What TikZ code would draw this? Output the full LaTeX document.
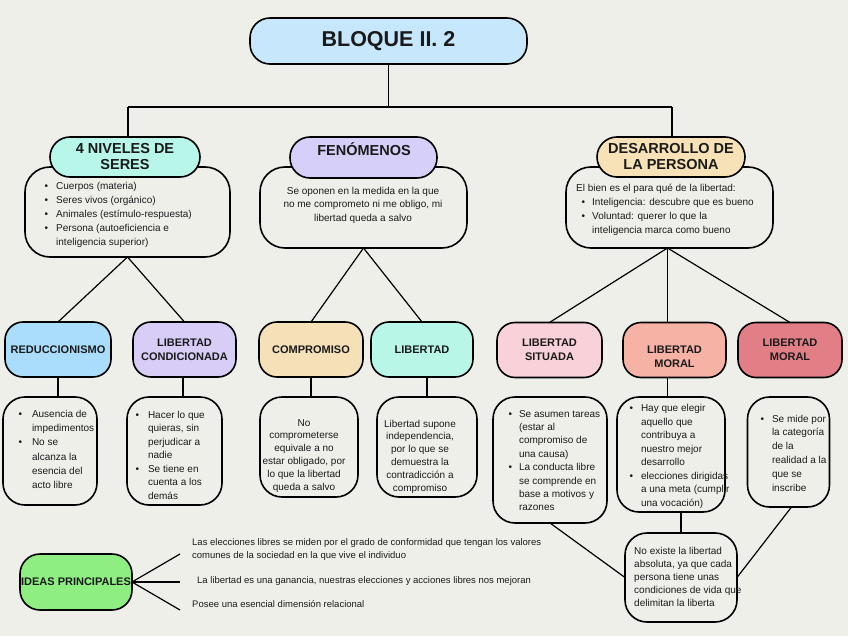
\documentclass[tikz,border=0pt]{standalone}
\usepackage{fontspec}
\setmainfont{Liberation Sans}
\definecolor{bg}{HTML}{EFEFEA}
\definecolor{txt}{HTML}{1A1A1A}
\definecolor{cTitle}{HTML}{C6E7FC}
\definecolor{cNiv}{HTML}{B9F6EA}
\definecolor{cFen}{HTML}{D6CFF9}
\definecolor{cDes}{HTML}{F6E2B6}
\definecolor{cRed}{HTML}{AADDFB}
\definecolor{cCond}{HTML}{D7CDF7}
\definecolor{cComp}{HTML}{F5E0B8}
\definecolor{cLib}{HTML}{B8F6E8}
\definecolor{cSit}{HTML}{F9D1D8}
\definecolor{cMor}{HTML}{F7B2A6}
\definecolor{cMorB}{HTML}{E27F86}
\definecolor{cIdeas}{HTML}{8EEE82}
\tikzset{
  box/.style={draw=black, line width=1.6pt, rounded corners=#1, inner sep=0pt, outer sep=0pt},
  box/.default=18pt,
  conn/.style={draw=black, line width=1.2pt},
  hdr/.style={font=\fontsize{14.5}{16}\selectfont\bfseries, align=center, text=txt},
  lvl/.style={font=\fontsize{11}{14}\selectfont\bfseries, align=center, text=txt},
  body/.style={inner sep=0pt, text=txt},
}
\newcommand{\bsz}[1]{\fontsize{10}{#1}\selectfont}
\begin{document}
\begin{tikzpicture}[x=1pt,y=-1pt]
\fill[bg] (0,0) rectangle (848,636);
\useasboundingbox (0,0) rectangle (848,636);

% title
\node[box=20pt, fill=cTitle, minimum width=277pt, minimum height=46pt,
      font=\fontsize{21.5}{24}\selectfont\bfseries, text=txt] (title) at (388.5,41) {BLOQUE II. 2};
\coordinate (jn) at (388.5,107);
\coordinate (jl) at (128,107);
\coordinate (jr) at (672,107);

% description boxes level 1
\node[box=25pt, fill=bg, minimum width=205pt, minimum height=90pt] (d1) at (127.5,212) {};
\node[box=25pt, fill=bg, minimum width=207pt, minimum height=81pt] (d2) at (363.5,207.5) {};
\node[box=25pt, fill=bg, minimum width=207pt, minimum height=81pt] (d3) at (669.5,207.5) {};

% headers level 1
\node[box=20pt, fill=cNiv, minimum width=150pt, minimum height=40pt, hdr] (h1) at (125,157) {4 NIVELES DE\\SERES};
\node[box=20pt, fill=cFen, minimum width=147pt, minimum height=41pt] (h2) at (363.5,157.5) {};
\node[hdr] (h2t) at (364,149.5) {FENÓMENOS};
\node[box=20pt, fill=cDes, minimum width=148pt, minimum height=40pt, hdr] (h3) at (671,157) {DESARROLLO DE\\LA PERSONA};

\node[body, anchor=base west] (d1t) at (44.5,189.5) {\bsz{14}\begin{tabular}[t]{@{}l@{\hspace{8pt}}l@{}}
\textbullet & Cuerpos (materia)\\
\textbullet & Seres vivos (orgánico)\\
\textbullet & Animales (estímulo-respuesta)\\
\textbullet & Persona (autoeficiencia e\\
 & inteligencia superior)
\end{tabular}};
\node[body, anchor=base] (d2t) at (363,194.5) {\bsz{13.5}\begin{tabular}[t]{@{}c@{}}
Se oponen en la medida en la que\\
no me comprometo ni me obligo, mi\\
libertad queda a salvo
\end{tabular}};
\node[body, anchor=base west] (d3t) at (576,191.5) {\bsz{14}\begin{tabular}[t]{@{\hspace{5.5pt}}l@{\hspace{7pt}}l@{}}
\multicolumn{2}{@{}l@{}}{El bien es el para qué de la libertad:}\\
\textbullet & Inteligencia: descubre que es bueno\\
\textbullet & Voluntad: querer lo que la\\
 & inteligencia marca como bueno
\end{tabular}};

% level 2
\node[box=18pt, fill=cRed, minimum width=106pt, minimum height=55pt, lvl] (r1) at (58,349.5) {REDUCCIONISMO};
\node[box=18pt, fill=cCond, minimum width=103pt, minimum height=55pt, lvl] (r2) at (184.5,349.5) {LIBERTAD\\CONDICIONADA};
\node[box=18pt, fill=cComp, minimum width=104pt, minimum height=55pt, lvl] (r3) at (311,349.5) {COMPROMISO};
\node[box=18pt, fill=cLib, minimum width=102pt, minimum height=55pt, lvl] (r4) at (422,349.5) {LIBERTAD};
\node[box=18pt, fill=cSit, minimum width=105pt, minimum height=55pt, lvl] (r5) at (549.5,350) {LIBERTAD\\SITUADA};
\node[box=18pt, fill=cMor, minimum width=103pt, minimum height=55pt] (r6) at (674.5,350) {};
\node[lvl] (r6t) at (674.5,357) {LIBERTAD\\MORAL};
\node[box=18pt, fill=cMorB, minimum width=104pt, minimum height=55pt, lvl] (r7) at (790,350) {LIBERTAD\\MORAL};

% level 3
\node[box=22pt, fill=bg, minimum width=94pt, minimum height=108pt] (e1) at (50,451) {};
\node[box=22pt, fill=bg, minimum width=95pt, minimum height=108pt] (e2) at (174.5,451) {};
\node[box=22pt, fill=bg, minimum width=98pt, minimum height=100pt] (e3) at (309,447) {};
\node[box=22pt, fill=bg, minimum width=100pt, minimum height=100pt] (e4) at (427,447) {};
\node[box=22pt, fill=bg, minimum width=114pt, minimum height=126pt] (e5) at (550,460) {};
\node[box=22pt, fill=bg, minimum width=108pt, minimum height=115pt] (e6) at (671,454.5) {};
\node[box=22pt, fill=bg, minimum width=82pt, minimum height=110pt] (e7) at (788.5,452) {};
\node[box=22pt, fill=bg, minimum width=112pt, minimum height=89pt] (f) at (681,577.5) {};

\node[body, anchor=base west] (e1t) at (18.3,417.5) {\bsz{14.2}\begin{tabular}[t]{@{}l@{\hspace{10pt}}l@{}}
\textbullet & Ausencia de\\
 & impedimentos\\
\textbullet & No se\\
 & alcanza la\\
 & esencia del\\
 & acto libre
\end{tabular}};
\node[body, anchor=base west] (e2t) at (135.3,418) {\bsz{13.5}\begin{tabular}[t]{@{}l@{\hspace{9pt}}l@{}}
\textbullet & Hacer lo que\\
 & quieras, sin\\
 & perjudicar a\\
 & nadie\\
\textbullet & Se tiene en\\
 & cuenta a los\\
 & demás
\end{tabular}};
\node[body, anchor=base] (e3t) at (304,426) {\bsz{12.8}\begin{tabular}[t]{@{}c@{}}
No\\ comprometerse\\ equivale a no\\ estar obligado, por\\ lo que la libertad\\ queda a salvo
\end{tabular}};
\node[body, anchor=base] (e4t) at (420,427) {\bsz{12.8}\begin{tabular}[t]{@{}c@{}}
Libertad supone\\ independencia,\\ por lo que se\\ demuestra la\\ contradicción a\\ compromiso
\end{tabular}};
\node[body, anchor=base west] (e5t) at (508.3,417) {\bsz{13.4}\begin{tabular}[t]{@{}l@{\hspace{7pt}}l@{}}
\textbullet & Se asumen tareas\\
 & (estar al\\
 & compromiso de\\
 & una causa)\\
\textbullet & La conducta libre\\
 & se comprende en\\
 & base a motivos y\\
 & razones
\end{tabular}};
\node[body, anchor=base west] (e6t) at (629.3,411.5) {\bsz{13.5}\begin{tabular}[t]{@{}l@{\hspace{8pt}}l@{}}
\textbullet & Hay que elegir\\
 & aquello que\\
 & contribuya a\\
 & nuestro mejor\\
 & desarrollo\\
\textbullet & elecciones dirigidas\\
 & a una meta (cumplir\\
 & una vocación)
\end{tabular}};
\node[body, anchor=base west] (e7t) at (760.3,422) {\bsz{13.8}\begin{tabular}[t]{@{}l@{\hspace{8pt}}l@{}}
\textbullet & Se mide por\\
 & la categoría\\
 & de la\\
 & realidad a la\\
 & que se\\
 & inscribe
\end{tabular}};
\node[body, anchor=base west] (ft) at (634,554) {\bsz{13}\begin{tabular}[t]{@{}l@{}}
No existe la libertad\\ absoluta, ya que cada\\ persona tiene unas\\ condiciones de vida que\\ delimitan la liberta
\end{tabular}};

% ideas principales
\node[box=20pt, fill=cIdeas, minimum width=112pt, minimum height=56pt, lvl] (ideas) at (76,582) {IDEAS PRINCIPALES};
\coordinate (i1) at (180,554);
\coordinate (i2) at (180,582);
\coordinate (i3) at (180,610);
\node[body, anchor=base west] (l1) at (192,545.5) {\fontsize{9.5}{13}\selectfont\begin{tabular}[t]{@{}l@{}}
Las elecciones libres se miden por el grado de conformidad que tengan los valores\\
comunes de la sociedad en la que vive el individuo
\end{tabular}};
\node[body, anchor=base west, font=\fontsize{9.5}{13}\selectfont] (l2) at (197,583.5) {La libertad es una ganancia, nuestras elecciones y acciones libres nos mejoran};
\node[body, anchor=base west, font=\fontsize{9.5}{13}\selectfont] (l3) at (192,607.5) {Posee una esencial dimensión relacional};

% connectors
\draw[conn] (title.south) -- (jn);
\draw[conn] (jl) -- (jr);
\draw[conn] (jl) -- (jl |- h1.north);
\draw[conn] (jr) -- (jr |- h3.north);
\draw[conn] (d1.south) -- (r1.north);
\draw[conn] (d1.south) -- (r2.north);
\draw[conn] (d2.south) -- (r3.north);
\draw[conn] (d2.south) -- (r4.north);
\draw[conn] ([xshift=-2pt]d3.south) -- (r5.north);
\draw[conn] ([xshift=-2pt]d3.south) -- ([xshift=-2pt]d3.south |- r6.north);
\draw[conn] ([xshift=-2pt]d3.south) -- (r7.north);
\draw[conn] (r1.south) -- (r1.south |- e1.north);
\draw[conn] ([xshift=-1.5pt]r2.south) -- ([xshift=-1.5pt]r2.south |- e2.north);
\draw[conn] (r3.south) -- (r3.south |- e3.north);
\draw[conn] (e4.north |- r4.south) -- (e4.north);
\draw[conn] ([xshift=-7pt]r6.south) -- ([xshift=-7pt]r6.south |- e6.north);
\draw[conn] (e5.south) -- (f.west);
\draw[conn] (f.north) -- (f.north |- e6.south);
\draw[conn] ([xshift=3pt]e7.south) -- (f.east);
\draw[conn] (ideas.east) -- (i1);
\draw[conn] (ideas.east) -- (i2);
\draw[conn] (ideas.east) -- (i3);
\end{tikzpicture}
\end{document}
